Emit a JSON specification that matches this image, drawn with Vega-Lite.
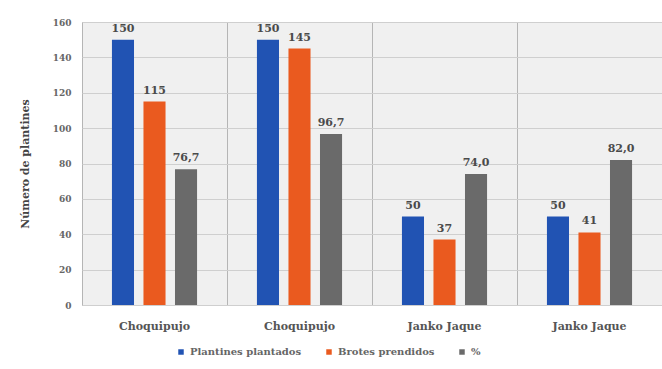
{
  "$schema": "https://vega.github.io/schema/vega-lite/v6.json",
  "width": 580,
  "height": 283,
  "autosize": "none",
  "padding": {"left": 82, "top": 22, "right": 0, "bottom": 64},
  "background": "#ffffff",
  "config": {
    "view": {"fill": "#f0f0f0", "stroke": "#bdbdbd"},
    "font": "DejaVu Serif"
  },
  "data": {
    "values": [
      {"grupo": "g1", "serie": "Plantines plantados", "valor": 150, "etiqueta": "150"},
      {"grupo": "g1", "serie": "Brotes prendidos", "valor": 115, "etiqueta": "115"},
      {"grupo": "g1", "serie": "%", "valor": 76.7, "etiqueta": "76,7"},
      {"grupo": "g2", "serie": "Plantines plantados", "valor": 150, "etiqueta": "150"},
      {"grupo": "g2", "serie": "Brotes prendidos", "valor": 145, "etiqueta": "145"},
      {"grupo": "g2", "serie": "%", "valor": 96.7, "etiqueta": "96,7"},
      {"grupo": "g3", "serie": "Plantines plantados", "valor": 50, "etiqueta": "50"},
      {"grupo": "g3", "serie": "Brotes prendidos", "valor": 37, "etiqueta": "37"},
      {"grupo": "g3", "serie": "%", "valor": 74.0, "etiqueta": "74,0"},
      {"grupo": "g4", "serie": "Plantines plantados", "valor": 50, "etiqueta": "50"},
      {"grupo": "g4", "serie": "Brotes prendidos", "valor": 41, "etiqueta": "41"},
      {"grupo": "g4", "serie": "%", "valor": 82.0, "etiqueta": "82,0"}
    ]
  },
  "encoding": {
    "x": {
      "field": "grupo",
      "type": "nominal",
      "sort": ["g1", "g2", "g3", "g4"],
      "scale": {"paddingInner": 0, "paddingOuter": 0},
      "axis": {
        "title": null,
        "labelAngle": 0,
        "labelExpr": "datum.value == 'g1' || datum.value == 'g2' ? 'Choquipujo' : 'Janko Jaque'",
        "grid": true,
        "bandPosition": 0,
        "gridColor": "#b5b5b5",
        "domain": false,
        "ticks": false,
        "labelPadding": 15,
        "labelFontSize": 11,
        "labelFontWeight": "bold",
        "labelColor": "#555555",
        "labelFont": "DejaVu Serif"
      }
    },
    "xOffset": {
      "field": "serie",
      "type": "nominal",
      "sort": ["Plantines plantados", "Brotes prendidos", "%"],
      "scale": {"paddingInner": 0.3, "paddingOuter": 0.95}
    },
    "y": {
      "field": "valor",
      "type": "quantitative",
      "scale": {"domain": [0, 160], "nice": false},
      "axis": {
        "title": "Número de plantines",
        "values": [0, 20, 40, 60, 80, 100, 120, 140, 160],
        "gridColor": "#cfcfcf",
        "domain": false,
        "ticks": false,
        "labelPadding": 11,
        "labelFontSize": 9,
        "labelFontWeight": "bold",
        "labelColor": "#666666",
        "labelFont": "DejaVu Serif",
        "titleFont": "DejaVu Serif",
        "titleFontSize": 11,
        "titleFontWeight": "bold",
        "titleColor": "#444444",
        "titlePadding": 22
      }
    }
  },
  "layer": [
    {
      "mark": {"type": "bar"},
      "encoding": {
        "color": {
          "field": "serie",
          "type": "nominal",
          "scale": {
            "domain": ["Plantines plantados", "Brotes prendidos", "%"],
            "range": ["#2153b3", "#ea5a1f", "#6a6a6a"]
          },
          "legend": {
            "title": null,
            "orient": "none",
            "direction": "horizontal",
            "legendX": 94,
            "legendY": 325,
            "symbolType": "square",
            "symbolSize": 30,
            "symbolStrokeWidth": 0,
            "labelFont": "DejaVu Serif",
            "labelFontSize": 10,
            "labelFontWeight": "bold",
            "labelColor": "#666666",
            "columnPadding": 22,
            "labelOffset": 4
          }
        }
      }
    },
    {
      "mark": {"type": "text", "baseline": "bottom", "dy": -6, "fontSize": 11, "fontWeight": "bold", "color": "#4a4a4a", "font": "DejaVu Serif"},
      "encoding": {
        "text": {"field": "etiqueta"}
      }
    }
  ]
}
